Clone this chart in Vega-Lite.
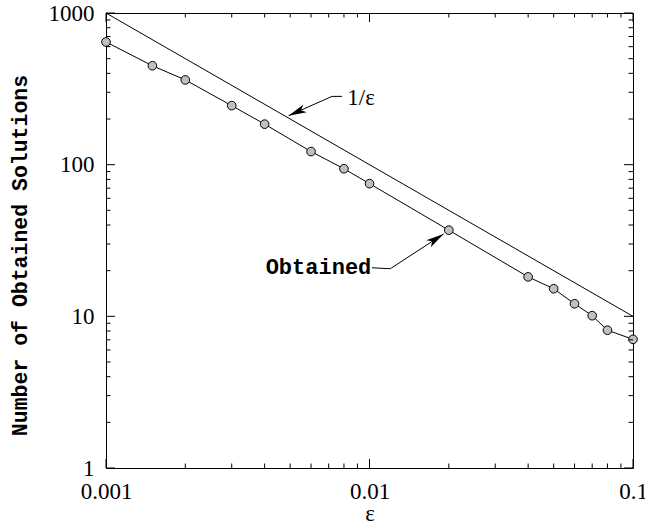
{
  "$schema": "https://vega.github.io/schema/vega-lite/v6.json",
  "width": 527,
  "height": 455,
  "autosize": "none",
  "padding": {"left": 106, "top": 13, "right": 12, "bottom": 61},
  "background": "white",
  "datasets": {
    "inverse": [
      {"eps": 0.001, "n": 1000},
      {"eps": 0.1, "n": 10}
    ],
    "obtained": [
      {"eps": 0.001, "n": 644},
      {"eps": 0.0015, "n": 449},
      {"eps": 0.002, "n": 362},
      {"eps": 0.003, "n": 245},
      {"eps": 0.004, "n": 185},
      {"eps": 0.006, "n": 122},
      {"eps": 0.008, "n": 94},
      {"eps": 0.01, "n": 75},
      {"eps": 0.02, "n": 37},
      {"eps": 0.04, "n": 18.2},
      {"eps": 0.05, "n": 15.2},
      {"eps": 0.06, "n": 12.1},
      {"eps": 0.07, "n": 10.1},
      {"eps": 0.08, "n": 8.1},
      {"eps": 0.1, "n": 7.05}
    ],
    "leaders": [
      {"group": "inv", "eps": 0.004932, "n": 210.4},
      {"group": "inv", "eps": 0.007205, "n": 282},
      {"group": "inv", "eps": 0.007865, "n": 282},
      {"group": "obt", "eps": 0.010221, "n": 20.9},
      {"group": "obt", "eps": 0.011995, "n": 20.6},
      {"group": "obt", "eps": 0.01911, "n": 34.93}
    ],
    "tipInv": [{"eps": 0.004932, "n": 210.4}],
    "tipObt": [{"eps": 0.01911, "n": 34.93}],
    "labelInv": [{"eps": 0.00824, "n": 248.7, "label": "1/ε"}],
    "labelObt": [{"eps": 0.010158, "n": 19.03, "label": "Obtained"}],
    "xMajor": [{"eps": 0.001}, {"eps": 0.01}, {"eps": 0.1}],
    "xMinor": [
      {"eps": 0.002}, {"eps": 0.003}, {"eps": 0.004}, {"eps": 0.005}, {"eps": 0.006}, {"eps": 0.007}, {"eps": 0.008}, {"eps": 0.009},
      {"eps": 0.02}, {"eps": 0.03}, {"eps": 0.04}, {"eps": 0.05}, {"eps": 0.06}, {"eps": 0.07}, {"eps": 0.08}, {"eps": 0.09}
    ],
    "yMajor": [{"n": 1}, {"n": 10}, {"n": 100}, {"n": 1000}],
    "yMinor": [
      {"n": 2}, {"n": 3}, {"n": 4}, {"n": 5}, {"n": 6}, {"n": 7}, {"n": 8}, {"n": 9},
      {"n": 20}, {"n": 30}, {"n": 40}, {"n": 50}, {"n": 60}, {"n": 70}, {"n": 80}, {"n": 90},
      {"n": 200}, {"n": 300}, {"n": 400}, {"n": 500}, {"n": 600}, {"n": 700}, {"n": 800}, {"n": 900}
    ]
  },
  "layer": [
    {
      "data": {"name": "inverse"},
      "mark": {"type": "line", "color": "black", "strokeWidth": 1},
      "encoding": {
        "x": {
          "field": "eps", "type": "quantitative",
          "scale": {"type": "log", "domain": [0.001, 0.1], "nice": false},
          "axis": {
            "orient": "bottom",
            "values": [0.001, 0.01, 0.1],
            "title": "ε",
            "titleFont": "Liberation Serif",
            "titleFontSize": 23,
            "titleFontWeight": "normal",
            "titleColor": "black",
            "titleBaseline": "alphabetic",
            "titleY": 52,
            "domainColor": "black",
            "domainWidth": 1,
            "ticks": false,
            "grid": false,
            "labelFont": "Liberation Serif",
            "labelFontSize": 23,
            "labelColor": "black",
            "labelFlush": false,
            "labelOverlap": false,
            "labelPadding": 12,
            "labelExpr": "'' + datum.value"
          }
        },
        "y": {
          "field": "n", "type": "quantitative",
          "scale": {"type": "log", "domain": [1, 1000], "nice": false},
          "axis": {
            "orient": "left",
            "values": [1, 10, 100, 1000],
            "title": "Number of Obtained Solutions",
            "titleFont": "Liberation Mono",
            "titleFontSize": 21.5,
            "titleFontWeight": "bold",
            "titleColor": "black",
            "titleBaseline": "alphabetic",
            "titleX": -80,
            "titleY": 242,
            "domainColor": "black",
            "domainWidth": 1,
            "ticks": false,
            "grid": false,
            "labelFont": "Liberation Serif",
            "labelFontSize": 23,
            "labelColor": "black",
            "labelFlush": false,
            "labelOverlap": false,
            "labelPadding": 12,
            "labelExpr": "'' + datum.value"
          }
        }
      }
    },
    {
      "data": {"name": "obtained"},
      "encoding": {
        "x": {
          "field": "eps", "type": "quantitative",
          "scale": {"type": "log", "domain": [0.001, 0.1], "nice": false},
          "axis": {"orient": "top", "title": null, "labels": false, "domainColor": "black", "domainWidth": 1, "ticks": false, "grid": false}
        },
        "y": {
          "field": "n", "type": "quantitative",
          "scale": {"type": "log", "domain": [1, 1000], "nice": false},
          "axis": {"orient": "right", "title": null, "labels": false, "domainColor": "black", "domainWidth": 1, "ticks": false, "grid": false}
        }
      },
      "layer": [
        {"mark": {"type": "line", "color": "black", "strokeWidth": 1}},
        {"mark": {"type": "point", "shape": "circle", "filled": true, "fill": "#c0c0c0", "stroke": "black", "strokeWidth": 1, "size": 75, "opacity": 1}}
      ]
    },
    {
      "data": {"name": "xMajor"},
      "mark": {"type": "point", "shape": "M0,0 L0,-1", "filled": false, "stroke": "black", "strokeWidth": 1, "opacity": 1, "size": 324},
      "encoding": {
        "x": {"field": "eps", "type": "quantitative", "scale": {"type": "log"}, "axis": null},
        "y": {"datum": 1, "type": "quantitative", "scale": {"type": "log"}, "axis": null}
      }
    },
    {
      "data": {"name": "xMajor"},
      "mark": {"type": "point", "shape": "M0,0 L0,1", "filled": false, "stroke": "black", "strokeWidth": 1, "opacity": 1, "size": 324},
      "encoding": {
        "x": {"field": "eps", "type": "quantitative", "scale": {"type": "log"}, "axis": null},
        "y": {"datum": 1000, "type": "quantitative", "scale": {"type": "log"}, "axis": null}
      }
    },
    {
      "data": {"name": "xMinor"},
      "mark": {"type": "point", "shape": "M0,0 L0,-1", "filled": false, "stroke": "black", "strokeWidth": 1, "opacity": 1, "size": 81},
      "encoding": {
        "x": {"field": "eps", "type": "quantitative", "scale": {"type": "log"}, "axis": null},
        "y": {"datum": 1, "type": "quantitative", "scale": {"type": "log"}, "axis": null}
      }
    },
    {
      "data": {"name": "xMinor"},
      "mark": {"type": "point", "shape": "M0,0 L0,1", "filled": false, "stroke": "black", "strokeWidth": 1, "opacity": 1, "size": 81},
      "encoding": {
        "x": {"field": "eps", "type": "quantitative", "scale": {"type": "log"}, "axis": null},
        "y": {"datum": 1000, "type": "quantitative", "scale": {"type": "log"}, "axis": null}
      }
    },
    {
      "data": {"name": "yMajor"},
      "mark": {"type": "point", "shape": "M0,0 L1,0", "filled": false, "stroke": "black", "strokeWidth": 1, "opacity": 1, "size": 324},
      "encoding": {
        "x": {"datum": 0.001, "type": "quantitative", "scale": {"type": "log"}, "axis": null},
        "y": {"field": "n", "type": "quantitative", "scale": {"type": "log"}, "axis": null}
      }
    },
    {
      "data": {"name": "yMajor"},
      "mark": {"type": "point", "shape": "M0,0 L-1,0", "filled": false, "stroke": "black", "strokeWidth": 1, "opacity": 1, "size": 324},
      "encoding": {
        "x": {"datum": 0.1, "type": "quantitative", "scale": {"type": "log"}, "axis": null},
        "y": {"field": "n", "type": "quantitative", "scale": {"type": "log"}, "axis": null}
      }
    },
    {
      "data": {"name": "yMinor"},
      "mark": {"type": "point", "shape": "M0,0 L1,0", "filled": false, "stroke": "black", "strokeWidth": 1, "opacity": 1, "size": 81},
      "encoding": {
        "x": {"datum": 0.001, "type": "quantitative", "scale": {"type": "log"}, "axis": null},
        "y": {"field": "n", "type": "quantitative", "scale": {"type": "log"}, "axis": null}
      }
    },
    {
      "data": {"name": "yMinor"},
      "mark": {"type": "point", "shape": "M0,0 L-1,0", "filled": false, "stroke": "black", "strokeWidth": 1, "opacity": 1, "size": 81},
      "encoding": {
        "x": {"datum": 0.1, "type": "quantitative", "scale": {"type": "log"}, "axis": null},
        "y": {"field": "n", "type": "quantitative", "scale": {"type": "log"}, "axis": null}
      }
    },
    {
      "data": {"name": "leaders"},
      "mark": {"type": "line", "color": "black", "strokeWidth": 1},
      "encoding": {
        "x": {"field": "eps", "type": "quantitative", "scale": {"type": "log"}, "axis": null},
        "y": {"field": "n", "type": "quantitative", "scale": {"type": "log"}, "axis": null},
        "detail": {"field": "group"}
      }
    },
    {
      "data": {"name": "tipInv"},
      "mark": {"type": "point", "shape": "M0,0 L-1.8,-0.42 L-1.35,0 L-1.8,0.42 Z", "filled": true, "color": "black", "opacity": 1, "size": 400, "angle": 156},
      "encoding": {
        "x": {"field": "eps", "type": "quantitative", "scale": {"type": "log"}, "axis": null},
        "y": {"field": "n", "type": "quantitative", "scale": {"type": "log"}, "axis": null}
      }
    },
    {
      "data": {"name": "tipObt"},
      "mark": {"type": "point", "shape": "M0,0 L-1.8,-0.42 L-1.35,0 L-1.8,0.42 Z", "filled": true, "color": "black", "opacity": 1, "size": 400, "angle": 327},
      "encoding": {
        "x": {"field": "eps", "type": "quantitative", "scale": {"type": "log"}, "axis": null},
        "y": {"field": "n", "type": "quantitative", "scale": {"type": "log"}, "axis": null}
      }
    },
    {
      "data": {"name": "labelInv"},
      "mark": {"type": "text", "font": "Liberation Serif", "fontSize": 23, "color": "black", "align": "left", "baseline": "alphabetic"},
      "encoding": {
        "x": {"field": "eps", "type": "quantitative", "scale": {"type": "log"}, "axis": null},
        "y": {"field": "n", "type": "quantitative", "scale": {"type": "log"}, "axis": null},
        "text": {"field": "label"}
      }
    },
    {
      "data": {"name": "labelObt"},
      "mark": {"type": "text", "font": "Liberation Mono", "fontSize": 22, "fontWeight": "bold", "color": "black", "align": "right", "baseline": "alphabetic"},
      "encoding": {
        "x": {"field": "eps", "type": "quantitative", "scale": {"type": "log"}, "axis": null},
        "y": {"field": "n", "type": "quantitative", "scale": {"type": "log"}, "axis": null},
        "text": {"field": "label"}
      }
    }
  ],
  "resolve": {"axis": {"x": "independent", "y": "independent"}},
  "config": {"view": {"stroke": null}}
}
